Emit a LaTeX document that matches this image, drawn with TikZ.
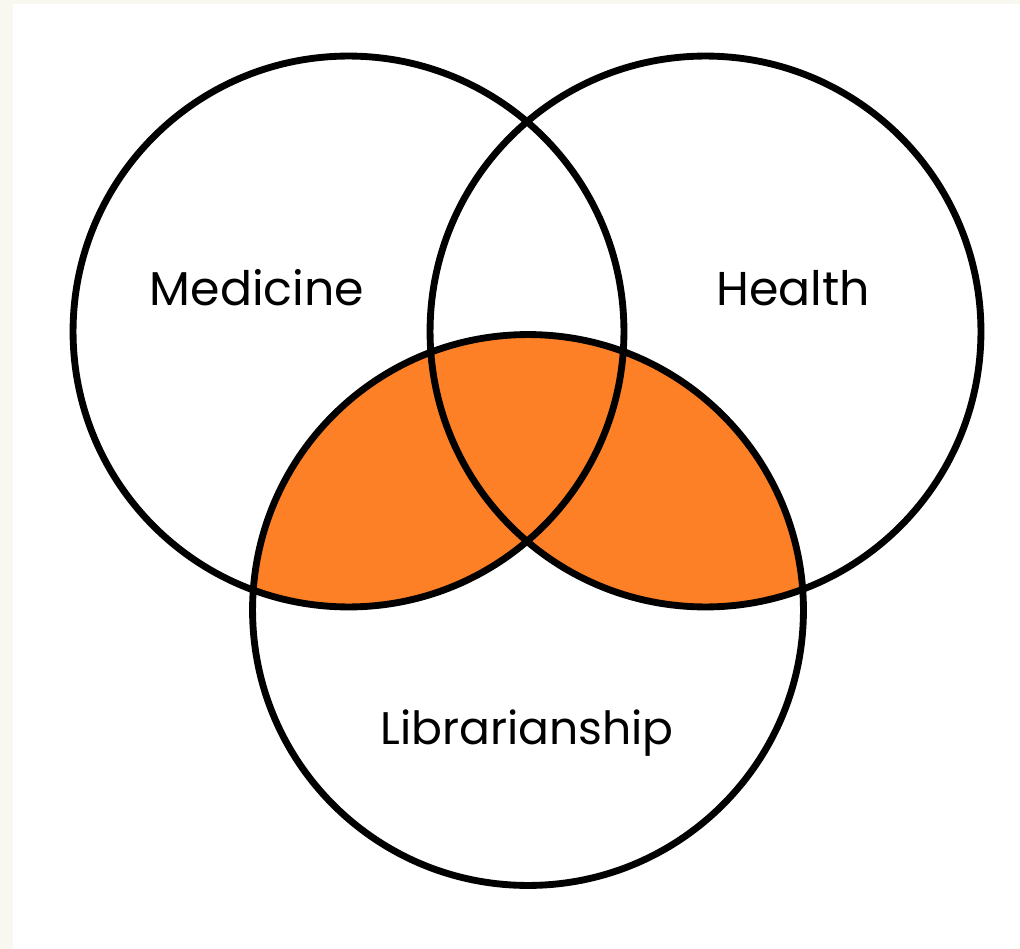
\documentclass[tikz,border=0pt]{standalone}
\usepackage{fontspec}
\setmainfont{Poppins}
\usetikzlibrary{positioning}
\definecolor{orange}{RGB}{253,128,38}
\definecolor{paper}{RGB}{248,248,241}

\begin{document}
\begin{tikzpicture}[x=0.02cm,y=-0.02cm, set/.style={draw=black,line width=3.9pt}, setname/.style={font=\fontsize{27}{32}\selectfont}]

% page
\fill[paper] (0,0) rectangle (1020,949);
\fill[white] (13,4) rectangle (1020,949);
\useasboundingbox (0,0) rectangle (1020,949);

\coordinate (medicine) at (348.5,331.5);
\coordinate (health) at (705.5,331.5);
\coordinate (library) at (528,610);

% shaded part
\begin{scope}
\clip (library) circle[radius=5.51cm];
\fill[orange] (medicine) circle[radius=5.51cm];
\fill[orange] (health) circle[radius=5.51cm];
\end{scope}

\draw[set] (medicine) circle[radius=5.51cm];
\draw[set] (health) circle[radius=5.51cm];
\draw[set] (library) circle[radius=5.51cm];

\node[setname] (med) at (257,288) {Medicine};
\node[setname] (hea) at (793,288) {Health};
\node[setname,font=\fontsize{26}{31}\selectfont] (lib) at (527,733) {Librarianship};
\end{tikzpicture}
\end{document}
